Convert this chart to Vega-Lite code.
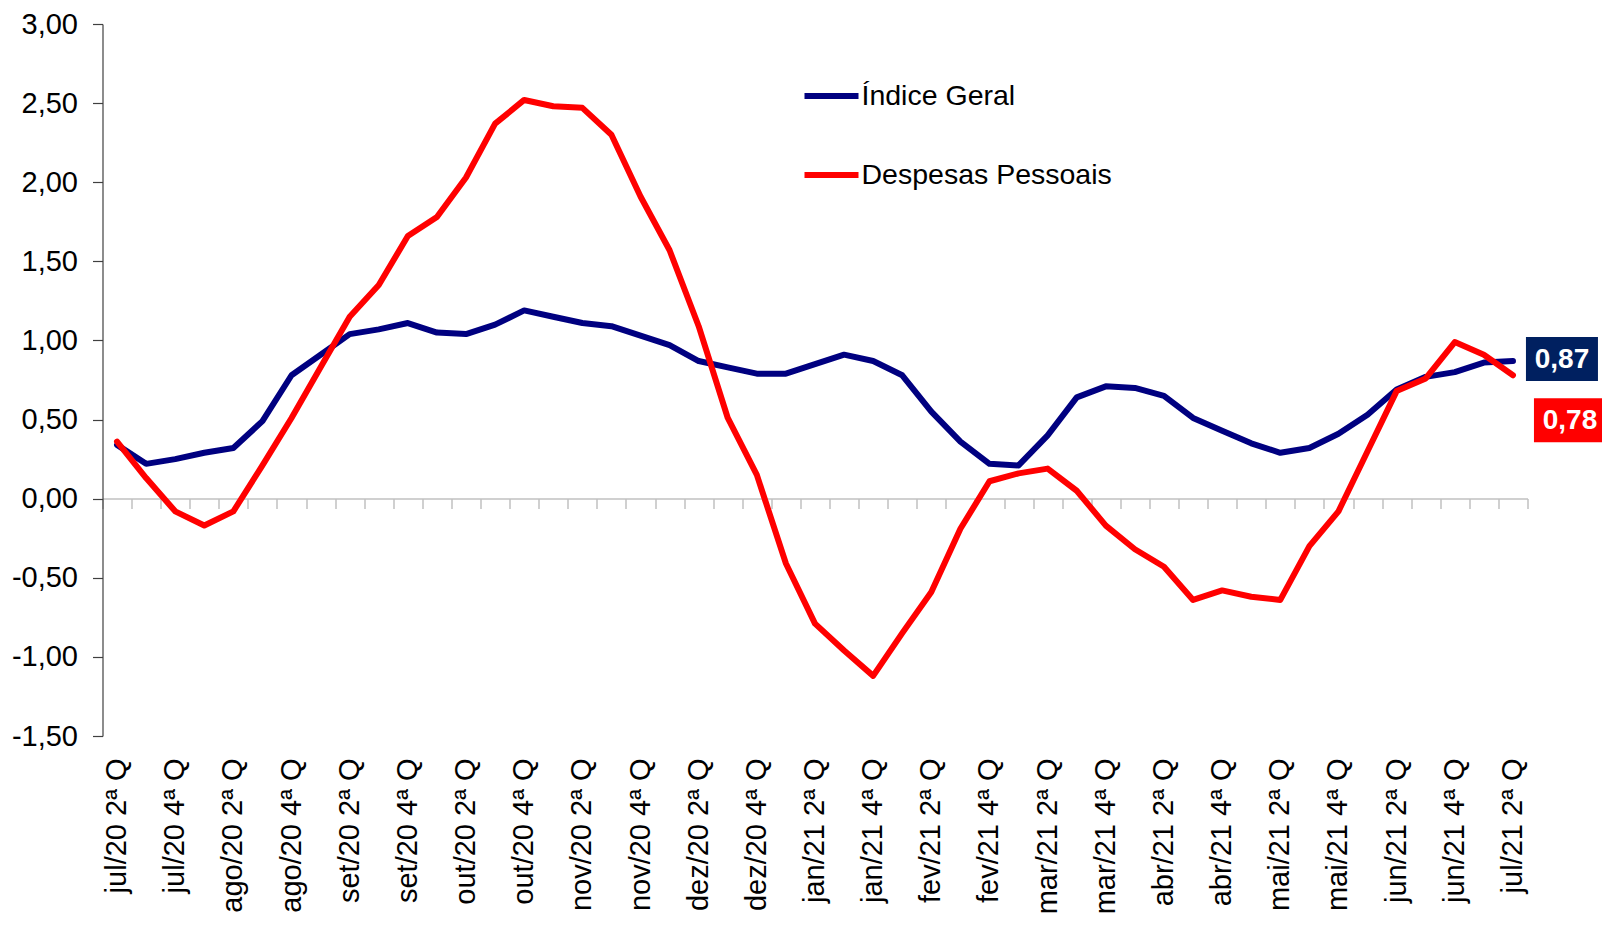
{
  "$schema": "https://vega.github.io/schema/vega-lite/v6.json",
  "width": 1425,
  "height": 712,
  "autosize": {"type": "none"},
  "padding": {"left": 102.5, "top": 24, "right": 74.5, "bottom": 193},
  "background": "white",
  "config": {
    "font": "Liberation Sans",
    "view": {"stroke": null},
    "locale": {"number": {"decimal": ",", "thousands": ".", "grouping": [3], "currency": ["R$ ", ""], "minus": "-"}},
    "axis": {"labelFont": "Liberation Sans", "labelColor": "black", "grid": false, "title": null}
  },
  "data": {"values": [
    {"q":"jul/20 2ª Q","s":"Índice Geral","v":0.34},
    {"q":"jul/20 3ª Q","s":"Índice Geral","v":0.22},
    {"q":"jul/20 4ª Q","s":"Índice Geral","v":0.25},
    {"q":"ago/20 1ª Q","s":"Índice Geral","v":0.29},
    {"q":"ago/20 2ª Q","s":"Índice Geral","v":0.32},
    {"q":"ago/20 3ª Q","s":"Índice Geral","v":0.49},
    {"q":"ago/20 4ª Q","s":"Índice Geral","v":0.78},
    {"q":"set/20 1ª Q","s":"Índice Geral","v":0.91},
    {"q":"set/20 2ª Q","s":"Índice Geral","v":1.04},
    {"q":"set/20 3ª Q","s":"Índice Geral","v":1.07},
    {"q":"set/20 4ª Q","s":"Índice Geral","v":1.11},
    {"q":"out/20 1ª Q","s":"Índice Geral","v":1.05},
    {"q":"out/20 2ª Q","s":"Índice Geral","v":1.04},
    {"q":"out/20 3ª Q","s":"Índice Geral","v":1.10},
    {"q":"out/20 4ª Q","s":"Índice Geral","v":1.19},
    {"q":"nov/20 1ª Q","s":"Índice Geral","v":1.15},
    {"q":"nov/20 2ª Q","s":"Índice Geral","v":1.11},
    {"q":"nov/20 3ª Q","s":"Índice Geral","v":1.09},
    {"q":"nov/20 4ª Q","s":"Índice Geral","v":1.03},
    {"q":"dez/20 1ª Q","s":"Índice Geral","v":0.97},
    {"q":"dez/20 2ª Q","s":"Índice Geral","v":0.87},
    {"q":"dez/20 3ª Q","s":"Índice Geral","v":0.83},
    {"q":"dez/20 4ª Q","s":"Índice Geral","v":0.79},
    {"q":"jan/21 1ª Q","s":"Índice Geral","v":0.79},
    {"q":"jan/21 2ª Q","s":"Índice Geral","v":0.85},
    {"q":"jan/21 3ª Q","s":"Índice Geral","v":0.91},
    {"q":"jan/21 4ª Q","s":"Índice Geral","v":0.87},
    {"q":"fev/21 1ª Q","s":"Índice Geral","v":0.78},
    {"q":"fev/21 2ª Q","s":"Índice Geral","v":0.55},
    {"q":"fev/21 3ª Q","s":"Índice Geral","v":0.36},
    {"q":"fev/21 4ª Q","s":"Índice Geral","v":0.22},
    {"q":"mar/21 1ª Q","s":"Índice Geral","v":0.21},
    {"q":"mar/21 2ª Q","s":"Índice Geral","v":0.40},
    {"q":"mar/21 3ª Q","s":"Índice Geral","v":0.64},
    {"q":"mar/21 4ª Q","s":"Índice Geral","v":0.71},
    {"q":"abr/21 1ª Q","s":"Índice Geral","v":0.70},
    {"q":"abr/21 2ª Q","s":"Índice Geral","v":0.65},
    {"q":"abr/21 3ª Q","s":"Índice Geral","v":0.51},
    {"q":"abr/21 4ª Q","s":"Índice Geral","v":0.43},
    {"q":"mai/21 1ª Q","s":"Índice Geral","v":0.35},
    {"q":"mai/21 2ª Q","s":"Índice Geral","v":0.29},
    {"q":"mai/21 3ª Q","s":"Índice Geral","v":0.32},
    {"q":"mai/21 4ª Q","s":"Índice Geral","v":0.41},
    {"q":"jun/21 1ª Q","s":"Índice Geral","v":0.53},
    {"q":"jun/21 2ª Q","s":"Índice Geral","v":0.69},
    {"q":"jun/21 3ª Q","s":"Índice Geral","v":0.77},
    {"q":"jun/21 4ª Q","s":"Índice Geral","v":0.80},
    {"q":"jul/21 1ª Q","s":"Índice Geral","v":0.86},
    {"q":"jul/21 2ª Q","s":"Índice Geral","v":0.87},
    {"q":"jul/20 2ª Q","s":"Despesas Pessoais","v":0.36},
    {"q":"jul/20 3ª Q","s":"Despesas Pessoais","v":0.13},
    {"q":"jul/20 4ª Q","s":"Despesas Pessoais","v":-0.08},
    {"q":"ago/20 1ª Q","s":"Despesas Pessoais","v":-0.17},
    {"q":"ago/20 2ª Q","s":"Despesas Pessoais","v":-0.08},
    {"q":"ago/20 3ª Q","s":"Despesas Pessoais","v":0.21},
    {"q":"ago/20 4ª Q","s":"Despesas Pessoais","v":0.51},
    {"q":"set/20 1ª Q","s":"Despesas Pessoais","v":0.83},
    {"q":"set/20 2ª Q","s":"Despesas Pessoais","v":1.15},
    {"q":"set/20 3ª Q","s":"Despesas Pessoais","v":1.35},
    {"q":"set/20 4ª Q","s":"Despesas Pessoais","v":1.66},
    {"q":"out/20 1ª Q","s":"Despesas Pessoais","v":1.78},
    {"q":"out/20 2ª Q","s":"Despesas Pessoais","v":2.03},
    {"q":"out/20 3ª Q","s":"Despesas Pessoais","v":2.37},
    {"q":"out/20 4ª Q","s":"Despesas Pessoais","v":2.52},
    {"q":"nov/20 1ª Q","s":"Despesas Pessoais","v":2.48},
    {"q":"nov/20 2ª Q","s":"Despesas Pessoais","v":2.47},
    {"q":"nov/20 3ª Q","s":"Despesas Pessoais","v":2.30},
    {"q":"nov/20 4ª Q","s":"Despesas Pessoais","v":1.91},
    {"q":"dez/20 1ª Q","s":"Despesas Pessoais","v":1.57},
    {"q":"dez/20 2ª Q","s":"Despesas Pessoais","v":1.09},
    {"q":"dez/20 3ª Q","s":"Despesas Pessoais","v":0.51},
    {"q":"dez/20 4ª Q","s":"Despesas Pessoais","v":0.15},
    {"q":"jan/21 1ª Q","s":"Despesas Pessoais","v":-0.41},
    {"q":"jan/21 2ª Q","s":"Despesas Pessoais","v":-0.79},
    {"q":"jan/21 3ª Q","s":"Despesas Pessoais","v":-0.96},
    {"q":"jan/21 4ª Q","s":"Despesas Pessoais","v":-1.12},
    {"q":"fev/21 1ª Q","s":"Despesas Pessoais","v":-0.85},
    {"q":"fev/21 2ª Q","s":"Despesas Pessoais","v":-0.59},
    {"q":"fev/21 3ª Q","s":"Despesas Pessoais","v":-0.19},
    {"q":"fev/21 4ª Q","s":"Despesas Pessoais","v":0.11},
    {"q":"mar/21 1ª Q","s":"Despesas Pessoais","v":0.16},
    {"q":"mar/21 2ª Q","s":"Despesas Pessoais","v":0.19},
    {"q":"mar/21 3ª Q","s":"Despesas Pessoais","v":0.05},
    {"q":"mar/21 4ª Q","s":"Despesas Pessoais","v":-0.17},
    {"q":"abr/21 1ª Q","s":"Despesas Pessoais","v":-0.32},
    {"q":"abr/21 2ª Q","s":"Despesas Pessoais","v":-0.43},
    {"q":"abr/21 3ª Q","s":"Despesas Pessoais","v":-0.64},
    {"q":"abr/21 4ª Q","s":"Despesas Pessoais","v":-0.58},
    {"q":"mai/21 1ª Q","s":"Despesas Pessoais","v":-0.62},
    {"q":"mai/21 2ª Q","s":"Despesas Pessoais","v":-0.64},
    {"q":"mai/21 3ª Q","s":"Despesas Pessoais","v":-0.30},
    {"q":"mai/21 4ª Q","s":"Despesas Pessoais","v":-0.08},
    {"q":"jun/21 1ª Q","s":"Despesas Pessoais","v":0.30},
    {"q":"jun/21 2ª Q","s":"Despesas Pessoais","v":0.68},
    {"q":"jun/21 3ª Q","s":"Despesas Pessoais","v":0.76},
    {"q":"jun/21 4ª Q","s":"Despesas Pessoais","v":0.99},
    {"q":"jul/21 1ª Q","s":"Despesas Pessoais","v":0.91},
    {"q":"jul/21 2ª Q","s":"Despesas Pessoais","v":0.78}
  ]},
  "layer": [
    {
      "mark": {"type": "line", "strokeWidth": 6, "strokeJoin": "round", "strokeCap": "round"},
      "encoding": {
        "x": {
          "field": "q", "type": "nominal", "sort": null,
          "scale": {"type": "band", "paddingInner": 0, "paddingOuter": 0, "domain": ["jul/20 2ª Q","jul/20 3ª Q","jul/20 4ª Q","ago/20 1ª Q","ago/20 2ª Q","ago/20 3ª Q","ago/20 4ª Q","set/20 1ª Q","set/20 2ª Q","set/20 3ª Q","set/20 4ª Q","out/20 1ª Q","out/20 2ª Q","out/20 3ª Q","out/20 4ª Q","nov/20 1ª Q","nov/20 2ª Q","nov/20 3ª Q","nov/20 4ª Q","dez/20 1ª Q","dez/20 2ª Q","dez/20 3ª Q","dez/20 4ª Q","jan/21 1ª Q","jan/21 2ª Q","jan/21 3ª Q","jan/21 4ª Q","fev/21 1ª Q","fev/21 2ª Q","fev/21 3ª Q","fev/21 4ª Q","mar/21 1ª Q","mar/21 2ª Q","mar/21 3ª Q","mar/21 4ª Q","abr/21 1ª Q","abr/21 2ª Q","abr/21 3ª Q","abr/21 4ª Q","mai/21 1ª Q","mai/21 2ª Q","mai/21 3ª Q","mai/21 4ª Q","jun/21 1ª Q","jun/21 2ª Q","jun/21 3ª Q","jun/21 4ª Q","jul/21 1ª Q","jul/21 2ª Q"]},
          "axis": {
            "orient": "bottom", "domain": false, "ticks": false, "labelAngle": -90,
            "labelFontSize": 29, "labelPadding": 22, "labelOverlap": false, "labelBound": false, "labelFlush": false,
            "values": ["jul/20 2ª Q","jul/20 4ª Q","ago/20 2ª Q","ago/20 4ª Q","set/20 2ª Q","set/20 4ª Q","out/20 2ª Q","out/20 4ª Q","nov/20 2ª Q","nov/20 4ª Q","dez/20 2ª Q","dez/20 4ª Q","jan/21 2ª Q","jan/21 4ª Q","fev/21 2ª Q","fev/21 4ª Q","mar/21 2ª Q","mar/21 4ª Q","abr/21 2ª Q","abr/21 4ª Q","mai/21 2ª Q","mai/21 4ª Q","jun/21 2ª Q","jun/21 4ª Q","jul/21 2ª Q"]
          }
        },
        "y": {
          "field": "v", "type": "quantitative",
          "scale": {"domain": [-1.5, 3], "nice": false, "zero": false},
          "axis": {
            "orient": "left",
            "values": [-1.5, -1, -0.5, 0, 0.5, 1, 1.5, 2, 2.5, 3], "format": ".2f",
            "labelFontSize": 29, "labelPadding": 15, "tickSize": 10,
            "domainColor": "#404040", "tickColor": "#404040", "domainWidth": 1.2, "tickWidth": 1.2
          }
        },
        "color": {
          "field": "s", "type": "nominal", "sort": null,
          "scale": {"domain": ["Índice Geral", "Despesas Pessoais"], "range": ["#000080", "#FF0000"]},
          "legend": {
            "orient": "none", "legendX": 699, "legendY": 42, "direction": "vertical", "title": null,
            "labelFontSize": 28.5, "labelFont": "Liberation Sans", "labelColor": "black", "labelLimit": 500,
            "symbolType": "stroke", "symbolSize": 2916, "symbolStrokeWidth": 6, "labelOffset": 0, "rowPadding": 34
          }
        }
      }
    },
    {
      "transform": [{"filter": "datum.q === 'jul/21 2ª Q' && datum.s === 'Índice Geral'"}],
      "mark": {"type": "point", "shape": "M-1,-0.611L1,-0.611L1,0.611L-1,0.611Z", "size": 5184, "filled": true, "color": "#002060", "opacity": 1, "strokeWidth": 0, "xOffset": 49, "yOffset": -2},
      "encoding": {
        "x": {
          "field": "q", "type": "nominal", "sort": null,
          "axis": {
            "orient": "bottom", "offset": -237.5, "labels": false, "ticks": true, "tickBand": "extent",
            "tickSize": 10, "tickColor": "#c0c0c0", "tickWidth": 1.5,
            "domain": true, "domainColor": "#c0c0c0", "domainWidth": 1.5
          }
        },
        "y": {"field": "v", "type": "quantitative", "axis": null}
      }
    },
    {
      "transform": [{"filter": "datum.q === 'jul/21 2ª Q' && datum.s === 'Índice Geral'"}],
      "mark": {"type": "text", "color": "white", "fontWeight": "bold", "fontSize": 28, "font": "Liberation Sans", "align": "center", "baseline": "middle", "xOffset": 49, "yOffset": -1},
      "encoding": {
        "x": {"field": "q", "type": "nominal", "sort": null, "axis": null},
        "y": {"field": "v", "type": "quantitative", "axis": null},
        "text": {"field": "v", "type": "quantitative", "format": ".2f"}
      }
    },
    {
      "transform": [{"filter": "datum.q === 'jul/21 2ª Q' && datum.s === 'Despesas Pessoais'"}],
      "mark": {"type": "point", "shape": "M-1,-0.611L1,-0.611L1,0.611L-1,0.611Z", "size": 5184, "filled": true, "color": "#FF0000", "opacity": 1, "strokeWidth": 0, "xOffset": 57, "yOffset": 45},
      "encoding": {
        "x": {"field": "q", "type": "nominal", "sort": null, "axis": null},
        "y": {"field": "v", "type": "quantitative", "axis": null}
      }
    },
    {
      "transform": [{"filter": "datum.q === 'jul/21 2ª Q' && datum.s === 'Despesas Pessoais'"}],
      "mark": {"type": "text", "color": "white", "fontWeight": "bold", "fontSize": 28, "font": "Liberation Sans", "align": "center", "baseline": "middle", "xOffset": 57, "yOffset": 46},
      "encoding": {
        "x": {"field": "q", "type": "nominal", "sort": null, "axis": null},
        "y": {"field": "v", "type": "quantitative", "axis": null},
        "text": {"field": "v", "type": "quantitative", "format": ".2f"}
      }
    }
  ],
  "resolve": {"axis": {"x": "independent", "y": "independent"}}
}
